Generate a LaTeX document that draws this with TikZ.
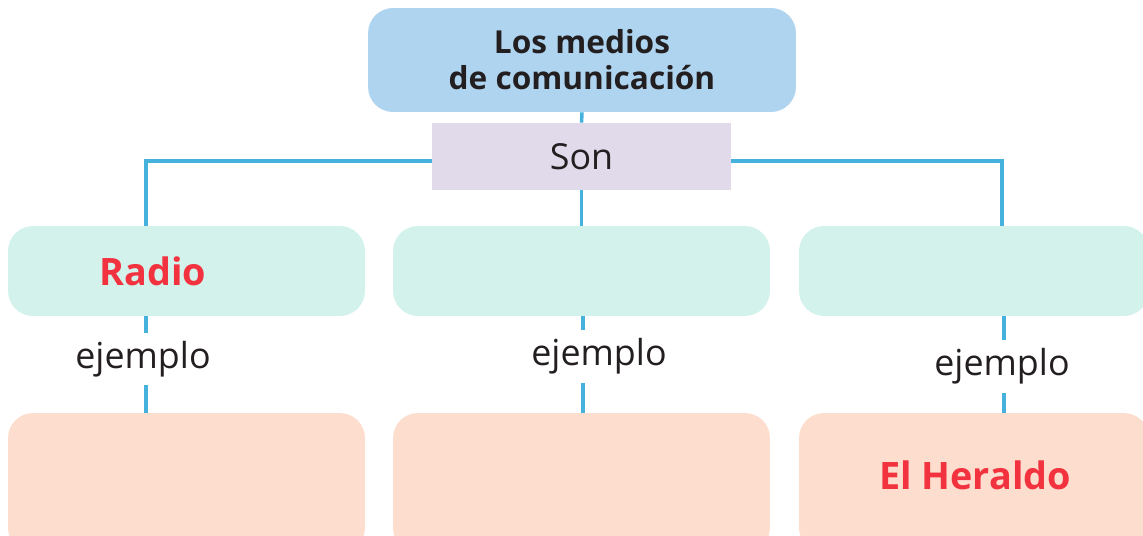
\documentclass[tikz,border=0pt]{standalone}
\usepackage{fontspec}
\setmainfont{Open Sans}
\usepackage{xcolor}
\usetikzlibrary{positioning}

\definecolor{topblue}{HTML}{AFD4EF}
\definecolor{sonlila}{HTML}{E0DAEB}
\definecolor{midgreen}{HTML}{D4F2EC}
\definecolor{lowpeach}{HTML}{FDDECE}
\definecolor{linkblue}{HTML}{45B2DE}
\definecolor{redword}{HTML}{F2323F}
\definecolor{inkgray}{HTML}{231F20}

\tikzset{
  box/.style={rounded corners=0.5cm, inner sep=0pt},
  link/.style={draw=linkblue, line width=2pt},
  example/.style={inner sep=0pt, minimum height=1.04cm, text=inkgray,
    font=\fontsize{20.4}{24}\selectfont},
  redtext/.style={text=redword, inner sep=0pt,
    font=\bfseries\fontsize{21.5}{26}\selectfont}
}

\begin{document}
\begin{tikzpicture}[x=0.02cm,y=-0.02cm]
  \clip (0,0) rectangle (1143,535);
  % title and link word
  \node[box, fill=topblue, minimum width=8.56cm, minimum height=2.08cm,
    align=center, text=inkgray, font=\bfseries\fontsize{18}{20.4}\selectfont]
    (title) at (582,60) {Los medios\\de comunicación};
  \node[fill=sonlila, minimum width=5.98cm, minimum height=1.34cm, inner sep=0pt,
    text=inkgray, font=\fontsize{20.4}{24}\selectfont] (son) at (581.5,156.5) {Son};
  % middle row
  \node[box, fill=midgreen, minimum width=7.14cm, minimum height=1.8cm] (radio) at (186.5,271) {};
  \node[box, fill=midgreen, minimum width=7.54cm, minimum height=1.8cm] (tele) at (581.5,271) {};
  \node[box, fill=midgreen, minimum width=7.0cm, minimum height=1.8cm] (prensa) at (974,271) {};
  % bottom row
  \node[box, fill=lowpeach, minimum width=7.14cm, minimum height=2.8cm] (radioej) at (186.5,483) {};
  \node[box, fill=lowpeach, minimum width=7.54cm, minimum height=2.8cm] (teleej) at (581.5,483) {};
  \node[box, fill=lowpeach, minimum width=7.0cm, minimum height=2.8cm] (prensaej) at (974,483) {};
  % texts
  \node[redtext] (radiotxt) at (153,271) {Radio};
  \node[redtext] (heraldo) at (975,475) {El Heraldo};
  \node[example] (ej1) at (143,359) {ejemplo};
  \node[example] (ej2) at (599,356.5) {ejemplo};
  \node[example] (ej3) at (1002,366.5) {ejemplo};
  % branch points
  \coordinate (b1) at (146,161);
  \coordinate (b2) at (583,0);
  \coordinate (b3) at (1002,161);
  \coordinate (b4) at (1004,0);
  % connectors
  \draw[link] (title.south) -- (son.north);
  \draw[link] (son.west |- b1) -- (b1) -- (b1 |- radio.north);
  \draw[link] (son.east |- b3) -- (b3) -- (b3 |- prensa.north);
  \draw[link] (son.south) -- (son.south |- tele.north);
  \draw[link] (b1 |- radio.south) -- (b1 |- ej1.north);
  \draw[link] (b1 |- ej1.south) -- (b1 |- radioej.north);
  \draw[link] (b2 |- tele.south) -- (b2 |- ej2.north);
  \draw[link] (b2 |- ej2.south) -- (b2 |- teleej.north);
  \draw[link] (b4 |- prensa.south) -- (b4 |- ej3.north);
  \draw[link] (b4 |- ej3.south) -- (b4 |- prensaej.north);
\end{tikzpicture}
\end{document}
